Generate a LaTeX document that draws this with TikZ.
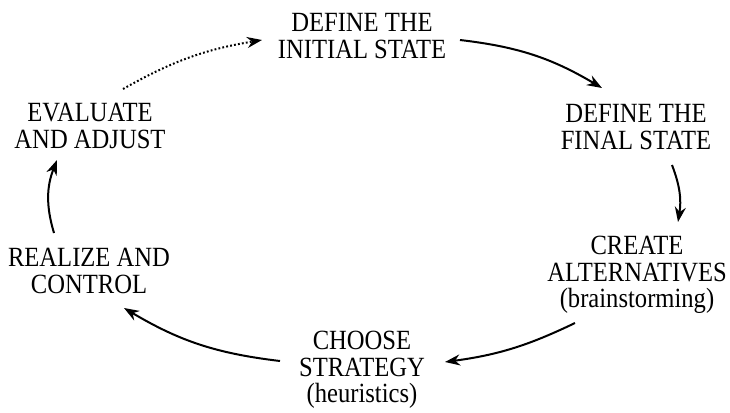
\documentclass[tikz,border=0pt]{standalone}
\usepackage{fontspec}
\setmainfont{Liberation Serif}
\usepackage{tikz}
\usetikzlibrary{arrows.meta}

\begin{document}
\begin{tikzpicture}[x=0.5pt, y=0.5pt,
    stage/.style={align=center, inner sep=0pt, yscale=1.13, font=\fontsize{12.3}{11.7}\selectfont},
    flow/.style={-{Stealth[length=7.5pt, width=5.5pt]}, line width=1pt},
    flowdot/.style={flow, dash pattern=on 0.9pt off 1.1pt}]
    \useasboundingbox (0,0) rectangle (730,-413);

    \node[stage] (initial) at (362,-36) {DEFINE THE\\INITIAL STATE};
    \node[stage] (final) at (636,-127) {DEFINE THE\\FINAL STATE};
    \node[stage] (create) at (637,-275) {CREATE\\ALTERNATIVES\\(brainstorming)};
    \node[stage] (choose) at (362,-370) {CHOOSE\\STRATEGY\\(heuristics)};
    \node[stage] (realize) at (89,-271) {REALIZE AND\\CONTROL};
    \node[stage] (evaluate) at (90,-126) {EVALUATE\\AND ADJUST};

    \draw[flow] ([shift={(98,-4)}]initial.center) to[bend left=12] ([shift={(-34,39)}]final.center);
    \draw[flow] ([shift={(36,-38)}]final.center) to[bend left=15] ([shift={(41,53)}]create.center);
    \draw[flow] ([shift={(-62,-48)}]create.center) to[bend left=9] ([shift={(83,8)}]choose.center);
    \draw[flow] ([shift={(-82,9)}]choose.center) to[bend left=12] ([shift={(35,-37)}]realize.center);
    \draw[flow] ([shift={(-35,38)}]realize.center) to[bend left=19] ([shift={(-33,-34)}]evaluate.center);
    \draw[flowdot] ([shift={(33,37)}]evaluate.center) to[bend left=10] ([shift={(-100,-4)}]initial.center);
\end{tikzpicture}
\end{document}
